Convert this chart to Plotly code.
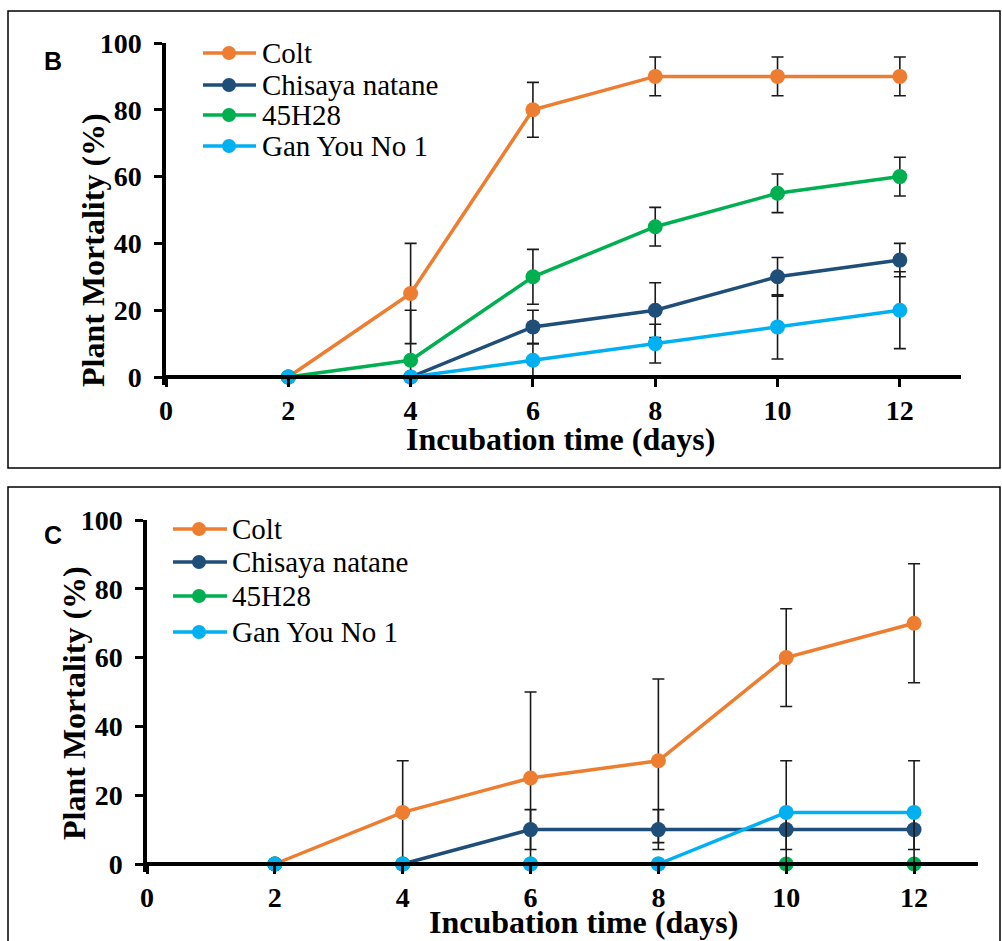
import plotly.graph_objects as go

# ---------------- data ----------------
days = [2, 4, 6, 8, 10, 12]
series_names = ["Colt", "Chisaya natane", "45H28", "Gan You No 1"]
series_colors = ["#ED7D31", "#1F4E79", "#00B050", "#00B0F0"]

# Panel B
colt_B = [0, 25, 80, 90, 90, 90]
colt_B_err = [0, 15, 8.2, 5.8, 5.8, 5.8]
chisaya_B = [0, 0, 15, 20, 30, 35]
chisaya_B_err = [0, 0, 5, 8.2, 5.8, 5]
h28_B = [0, 5, 30, 45, 55, 60]
h28_B_err = [0, 15, 8.2, 5.8, 5.8, 5.8]
ganyou_B = [0, 0, 5, 10, 15, 20]
ganyou_B_err = [0, 0, 5, 5.8, 9.6, 11.5]

# Panel C
colt_C = [0, 15, 25, 30, 60, 70]
colt_C_err = [0, 15, 25, 23.8, 14.2, 17.3]
chisaya_C = [0, 0, 10, 10, 10, 10]
chisaya_C_err = [0, 0, 5.8, 5.8, 5.8, 5.8]
h28_C = [0, 0, 0, 0, 0, 0]
h28_C_err = [0, 0, 0, 0, 0, 0]
ganyou_C = [0, 0, 0, 0, 15, 15]
ganyou_C_err = [0, 0, 0, 0, 15, 15]

y_ticks = [0, 20, 40, 60, 80, 100]
x_ticks = [0, 2, 4, 6, 8, 10, 12]
x_title = "Incubation time (days)"
y_title = "Plant Mortality (%)"

# ---------------- layout helpers ----------------
W, H = 1002, 941


def px(x):
    return x / W


def py(y):
    return 1 - y / H


SERIF = "Liberation Serif, Times New Roman, serif"
SANS = "Liberation Sans, Arial, sans-serif"
YMIN = -2.4

panels = [
    dict(label="B",
         values=[colt_B, chisaya_B, h28_B, ganyou_B],
         errors=[colt_B_err, chisaya_B_err, h28_B_err, ganyou_B_err],
         xl=166, xr=961, ytop=43, yzero=377,
         box=(8, 11, 1000, 468), lab=(53, 61),
         xt=(560, 439), yt=(93, 250),
         leg_x=(203, 256, 229, 260), leg_y=[53, 85, 115, 146]),
    dict(label="C",
         values=[colt_C, chisaya_C, h28_C, ganyou_C],
         errors=[colt_C_err, chisaya_C_err, h28_C_err, ganyou_C_err],
         xl=147, xr=978, ytop=520, yzero=864,
         box=(8, 487, 1000, 950), lab=(53, 535),
         xt=(583, 922), yt=(74, 703),
         leg_x=(173, 227, 199, 230), leg_y=[529, 562, 596, 632]),
]

fig = go.Figure()
shapes = []
annotations = []
layout_axes = {}

for i, p in enumerate(panels):
    n = i + 1
    xa = "x" if n == 1 else f"x{n}"
    ya = "y" if n == 1 else f"y{n}"
    unit = (p["yzero"] - p["ytop"]) / 100.0
    ybottom_px = p["yzero"] - YMIN * unit

    for name, color, vals, errs in zip(series_names, series_colors, p["values"], p["errors"]):
        plus = [e if e > 0 else None for e in errs]
        minus = [min(e, v) if e > 0 else None for e, v in zip(errs, vals)]
        fig.add_trace(go.Scatter(
            x=days, y=vals, name=name, xaxis=xa, yaxis=ya,
            mode="lines+markers", showlegend=False, cliponaxis=False,
            line=dict(color=color, width=3.5),
            marker=dict(color=color, size=15),
            error_y=dict(type="data", symmetric=False, array=plus, arrayminus=minus,
                         color="#1a1a1a", thickness=1.6, width=6),
        ))

    xkey = "xaxis" if n == 1 else f"xaxis{n}"
    ykey = "yaxis" if n == 1 else f"yaxis{n}"
    layout_axes[xkey] = dict(
        domain=[px(p["xl"]), px(p["xr"])], range=[0, 13],
        anchor="free", position=py(p["yzero"]), automargin=False,
        tickvals=x_ticks, ticks="outside", ticklen=8, tickwidth=3, tickcolor="black",
        showline=True, linewidth=3.5, linecolor="black",
        showgrid=False, zeroline=False,
        tickfont=dict(family=SERIF, size=28, color="black", weight="bold"),
        ticklabelstandoff=0,
    )
    layout_axes[ykey] = dict(
        domain=[py(ybottom_px), py(p["ytop"])], range=[YMIN, 100],
        anchor=xa, automargin=False,
        tickvals=y_ticks, ticks="outside", ticklen=8, tickwidth=3, tickcolor="black",
        showline=True, linewidth=3.5, linecolor="black",
        showgrid=False, zeroline=False,
        tickfont=dict(family=SERIF, size=28, color="black", weight="bold"),
        ticklabelstandoff=7,
    )

    bx0, by0, bx1, by1 = p["box"]
    shapes.append(dict(type="rect", xref="paper", yref="paper",
                       x0=px(bx0), x1=px(bx1), y0=py(by0), y1=py(by1),
                       line=dict(color="black", width=1.5)))

    annotations.append(dict(text=p["label"], x=px(p["lab"][0]), y=py(p["lab"][1]),
                            xref="paper", yref="paper", showarrow=False,
                            xanchor="center", yanchor="middle",
                            font=dict(family=SANS, size=25, color="black", weight="bold")))
    annotations.append(dict(text=x_title, x=px(p["xt"][0]), y=py(p["xt"][1]),
                            xref="paper", yref="paper", showarrow=False,
                            xanchor="center", yanchor="middle",
                            font=dict(family=SERIF, size=32, color="black", weight="bold")))
    annotations.append(dict(text=y_title, x=px(p["yt"][0]), y=py(p["yt"][1]),
                            xref="paper", yref="paper", showarrow=False, textangle=-90,
                            xanchor="center", yanchor="middle",
                            font=dict(family=SERIF, size=32, color="black", weight="bold")))

    # manual legend
    lx0, lx1, lmx, ltx = p["leg_x"]
    for name, color, ly in zip(series_names, series_colors, p["leg_y"]):
        shapes.append(dict(type="line", xref="paper", yref="paper",
                           x0=px(lx0), x1=px(lx1), y0=py(ly), y1=py(ly),
                           line=dict(color=color, width=3.5)))
        r = 7
        shapes.append(dict(type="circle", xref="paper", yref="paper",
                           x0=px(lmx - r), x1=px(lmx + r), y0=py(ly + r), y1=py(ly - r),
                           fillcolor=color, line=dict(color=color, width=0)))
        annotations.append(dict(text=name, x=px(ltx), y=py(ly),
                                xref="paper", yref="paper", showarrow=False,
                                xanchor="left", yanchor="middle",
                                font=dict(family=SERIF, size=29, color="black")))

fig.update_layout(
    width=W, height=H, autosize=False,
    margin=dict(l=0, r=0, t=0, b=0, pad=0),
    paper_bgcolor="white", plot_bgcolor="white",
    showlegend=False,
    shapes=shapes, annotations=annotations,
    **layout_axes,
)

pin_script = (
    "var gd=document.getElementById('{plot_id}');"
    "gd.style.position='fixed';gd.style.left='0px';gd.style.top='0px';"
    "document.documentElement.style.margin='0';document.documentElement.style.padding='0';"
    "document.body.style.margin='0';document.body.style.padding='0';"
    "document.documentElement.style.overflow='hidden';document.body.style.overflow='hidden';"
)

fig.write_html("out.html", config={"displayModeBar": False}, post_script=pin_script)
